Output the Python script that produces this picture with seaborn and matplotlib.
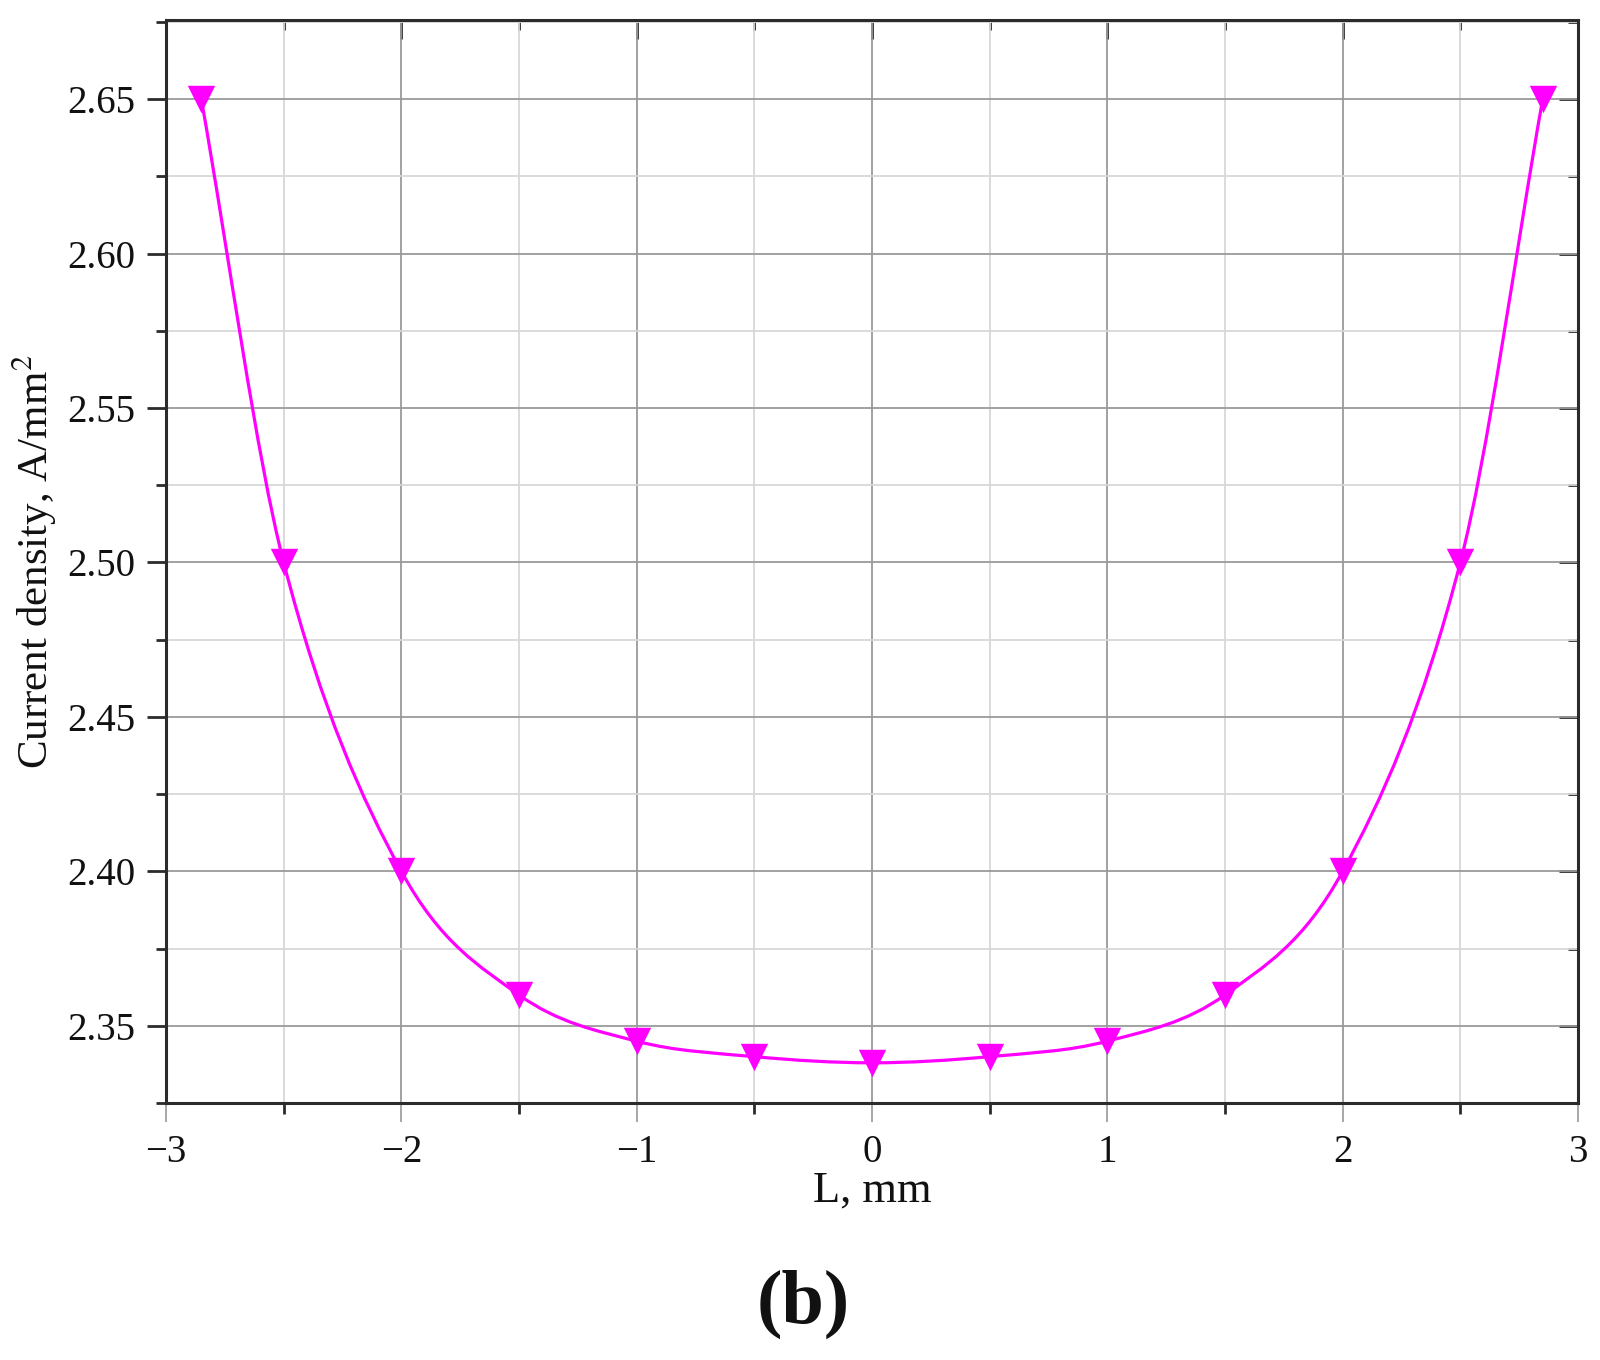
import matplotlib
matplotlib.use("Agg")
import matplotlib.pyplot as plt
from matplotlib.path import Path
from matplotlib.patches import PathPatch
from matplotlib.ticker import MultipleLocator, FormatStrFormatter
import numpy as np
import pandas as pd
import seaborn as sns

# data
L_mm = [-2.85, -2.5, -2.0, -1.5, -1.0, -0.5, 0.0, 0.5, 1.0, 1.5, 2.0, 2.5, 2.85]
current_density = [2.65, 2.50, 2.40, 2.36, 2.345, 2.34, 2.338, 2.34, 2.345, 2.36, 2.40, 2.50, 2.65]

x_ticks = [-3, -2, -1, 0, 1, 2, 3]
y_ticks = [2.35, 2.40, 2.45, 2.50, 2.55, 2.60, 2.65]

MAGENTA = "#FF00FF"
SPINE = "#2b2b2b"

sns.set_theme(style="white")
plt.rcParams["font.family"] = ["Liberation Serif", "DejaVu Serif"]
plt.rcParams["mathtext.fontset"] = "stix"

fig = plt.figure(figsize=(16, 13.6), dpi=100)
ax = fig.add_axes([0.10375, 0.189, 0.8825, 0.7963])

df = pd.DataFrame({"L": L_mm, "J": current_density})


def _spline_path(x, y):
    # Origin-style smooth connector: cubic Hermite segments drawn as Bezier curves
    x = np.asarray(x, float)
    y = np.asarray(y, float)
    n = len(x)
    m = np.empty(n)
    m[0] = (y[1] - y[0]) / (x[1] - x[0])
    m[-1] = (y[-1] - y[-2]) / (x[-1] - x[-2])
    for i in range(1, n - 1):
        m[i] = (y[i + 1] - y[i - 1]) / (x[i + 1] - x[i - 1])
    verts = [(x[0], y[0])]
    codes = [Path.MOVETO]
    for i in range(n - 1):
        h = x[i + 1] - x[i]
        verts += [(x[i] + h / 3, y[i] + m[i] * h / 3),
                  (x[i + 1] - h / 3, y[i + 1] - m[i + 1] * h / 3),
                  (x[i + 1], y[i + 1])]
        codes += [Path.CURVE4] * 3
    return Path(verts, codes)


ax.add_patch(PathPatch(_spline_path(df["L"], df["J"]), facecolor="none",
                       edgecolor=MAGENTA, linewidth=2.3, zorder=3))
sns.scatterplot(data=df, x="L", y="J", marker="v", s=390, color=MAGENTA,
                linewidth=0, ax=ax, zorder=4)

ax.set_xlim(-3, 3)
ax.set_ylim(2.325, 2.6756)
ax.set_xticks(x_ticks)
ax.set_yticks(y_ticks)
ax.xaxis.set_minor_locator(MultipleLocator(0.5))
ax.yaxis.set_minor_locator(MultipleLocator(0.025))
ax.yaxis.set_major_formatter(FormatStrFormatter("%.2f"))

ax.grid(which="major", color="#9a9a9a", linewidth=1.3)
ax.grid(which="minor", color="#d8d8d8", linewidth=1.3)
ax.set_axisbelow(True)

for s in ax.spines.values():
    s.set_color(SPINE)
    s.set_linewidth(2.2)

ax.tick_params(axis="both", which="both", direction="out", labelsize=28,
               colors=SPINE, labelcolor="#111111", pad=8,
               left=True, bottom=True, top=False, right=False)
ax.tick_params(axis="y", which="major", length=14, width=2)
ax.tick_params(axis="y", which="minor", length=7, width=2)
ax.tick_params(axis="x", which="major", length=14, width=1.3, color="#a0a0a0")
ax.tick_params(axis="x", which="minor", length=8, width=2)

# inward ticks on the top and right frames
top = ax.secondary_xaxis("top")
top.set_xticks(x_ticks)
top.xaxis.set_minor_locator(MultipleLocator(0.5))
top.tick_params(which="both", direction="in", top=True, labeltop=False, colors=SPINE)
top.tick_params(which="major", length=14, width=2)
top.tick_params(which="minor", length=7, width=2)
top.spines["top"].set_visible(False)

right = ax.secondary_yaxis("right")
right.set_yticks(y_ticks)
right.yaxis.set_minor_locator(MultipleLocator(0.025))
right.tick_params(which="both", direction="in", right=True, labelright=False, colors=SPINE)
right.tick_params(which="major", length=14, width=2)
right.tick_params(which="minor", length=7, width=2)
right.spines["right"].set_visible(False)

ax.set_xlabel("L, mm", fontsize=32, color="#111111", labelpad=0)
ax.set_ylabel("Current density, A/mm$^2$", fontsize=31, color="#111111", labelpad=6)

fig.text(0.502, 0.041, "(b)", ha="center", va="center", fontsize=55,
         fontweight="bold", color="#111111")

fig.savefig("out.png", dpi=100)
